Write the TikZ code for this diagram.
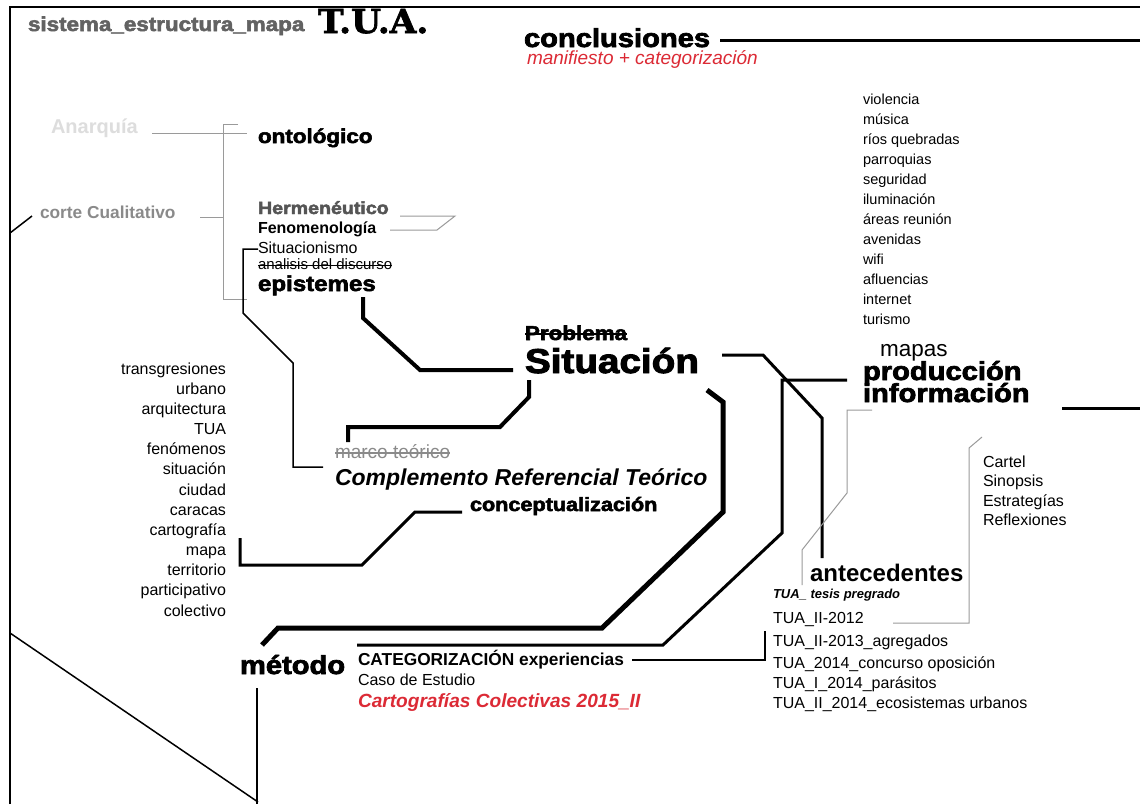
\documentclass[tikz,border=0pt]{standalone}
\usepackage{fontspec}
\setmainfont{Liberation Sans}
\newfontfamily\heavy{Liberation Sans}[BoldFeatures={FakeBold=2.6}]
\newfontfamily\slab{DejaVu Serif}[BoldFeatures={FakeBold=2}]
\definecolor{tred}{HTML}{DC2A35}
\definecolor{gE}{HTML}{DDDDDD}
\definecolor{g88}{HTML}{8A8A8A}
\definecolor{g55}{HTML}{555555}
\definecolor{g66}{HTML}{626262}
\definecolor{gline}{HTML}{9A9A9A}
\newcommand\fsz[1]{\fontsize{#1}{#1}\selectfont}
\begin{document}
\begin{tikzpicture}[x=1pt,y=-1pt,
  every node/.style={inner sep=0pt, outer sep=0pt, anchor=base west},
  hv/.style={font=\heavy\bfseries, xscale=1.12},
  bd/.style={font=\bfseries},
  lst/.style={anchor=base east},
  wfive/.style={line width=5pt, line join=miter},
  wfour/.style={line width=4pt, line join=miter},
  wthree/.style={line width=3pt, line join=miter},
  bthin/.style={line width=1.5pt, line join=miter},
  gthin/.style={line width=1pt, gline, line join=miter},
  strike/.style={line width=1.3pt}]
\useasboundingbox (0,0) rectangle (1140,804);
\fill[white] (0,0) rectangle (1140,804);
% frame
\draw[bthin] (10,804) -- (10,7) -- (1140,7);
% title
\node[hv, text=g66] (title) at (28,31) {\fsz{20}sistema\_estructura\_mapa};
\node[font=\slab\bfseries, xscale=1.04] (tua) at (318,33) {\fsz{33}T.U.A.};
% conclusiones
\node[hv] (concl) at (524,47) {\fsz{26}conclusiones};
\node[font=\itshape, text=tred] (manif) at (527,64.5) {\fsz{19}manifiesto + categorización};
\coordinate (c1) at (720,40); \coordinate (c2) at (1140,40);
\draw[wthree] (c1) -- (c2);
% left gray branch
\node[bd, text=gE] (anar) at (51,133) {\fsz{20}Anarquía};
\node[bd, text=g88] (corte) at (40,218) {\fsz{17.3}corte Cualitativo};
\draw[gthin] (152,133) -- (247,133);
\draw[gthin] (238,124) -- (223,124) -- (223,299) -- (247,299);
\draw[gthin] (200,217) -- (223,217);
\draw[bthin] (10,233) -- (32,216);
% upper stack
\node[hv] (onto) at (258,143) {\fsz{20}ontológico};
\node[hv, text=g55] (herm) at (258,214) {\fsz{17.5}Hermenéutico};
\node[bd] (feno) at (258,233) {\fsz{16}Fenomenología};
\draw[gthin] (400,216) -- (455,216) -- (437,230) -- (390,230);
\node (situ) at (258,253) {\fsz{16}Situacionismo};
\node (anal) at (258,269) {\fsz{15}analisis del discurso};
\draw[line width=1pt] ([yshift=4pt]anal.base west) -- ([yshift=4pt]anal.base east);
\node[hv] (epis) at (258,291) {\fsz{21.5}epistemes};
\draw[bthin] (258,249) -- (243,249) -- (243,313) -- (293,363) -- (293,467) -- (323,467);
% Situacion
\draw[wfour] (363,297) -- (363,318) -- (420,370) -- (513,370);
\node[hv] (prob) at (525,340) {\fsz{20}Problema};
\draw[strike] ([yshift=6pt]prob.base west) -- ([yshift=6pt]prob.base east);
\node[hv] (situa) at (525,373) {\fsz{34.5}Situación};
\draw[wfour] (529,380) -- (529,397) -- (500,427) -- (348,427) -- (348,442);
\node[text=g88] (marco) at (335,458) {\fsz{19}marco teórico};
\draw[line width=1.2pt, g88] ([yshift=5pt]marco.base west) -- ([yshift=5pt]marco.base east);
\node[font=\bfseries\itshape] (compl) at (335,485) {\fsz{23}Complemento Referencial Teórico};
\node[hv] (concep) at (470,511) {\fsz{19.3}conceptualización};
\draw[wthree] (240,538) -- (240,565) -- (362,565) -- (415,512) -- (462,512);
% left list
\foreach \t [count=\i from 0] in {transgresiones,urbano,arquitectura,TUA,fenómenos,situación,ciudad,caracas,cartografía,mapa,territorio,participativo,colectivo}
  \node[lst] (L\i) at (226,{374+20.17*\i}) {\fsz{16}\t};
% big loop
\draw[wfive] (707,390) -- (723,402) -- (723,512) -- (602,628) -- (278,628) -- (262,645);
\draw[wthree] (847,380) -- (782,380) -- (782,533) -- (663,645) -- (357,645);
\draw[wthree] (722,355) -- (763,355) -- (822,418) -- (822,558);
% metodo
\node[hv] (meto) at (240,674) {\fsz{26}método};
\node[bd] (categ) at (358,665) {\fsz{17.3}CATEGORIZACIÓN experiencias};
\node (caso) at (358,685) {\fsz{16}Caso de Estudio};
\node[font=\bfseries\itshape, text=tred] (carto) at (358,707) {\fsz{19.1}Cartografías Colectivas 2015\_II};
\draw[bthin] (632,660) -- (765,660) -- (765,631);
\draw[bthin] (10,633) -- (258,802);
\draw[bthin] (257,688) -- (257,804);
% right list
\foreach \t [count=\i from 0] in {violencia,música,ríos quebradas,parroquias,seguridad,iluminación,áreas reunión,avenidas,wifi,afluencias,internet,turismo}
  \node (R\i) at (863,{104+20*\i}) {\fsz{14.5}\t};
% produccion
\node (mapas) at (880,356) {\fsz{22.5}mapas};
\node[hv] (prod) at (863,380) {\fsz{26}producción};
\node[hv] (info) at (863,402) {\fsz{26}información};
\draw[wthree] (1062,408) -- (1140,408);
\draw[gthin] (872,410) -- (847,410) -- (847,493) -- (802,550) -- (802,585);
\draw[gthin] (982,437) -- (969,448) -- (969,623) -- (893,623);
\foreach \t [count=\i from 0] in {Cartel,Sinopsis,Estrategías,Reflexiones}
  \node (C\i) at (983,{467.5+19.4*\i}) {\fsz{16}\t};
% antecedentes
\node[bd] (ante) at (810,581) {\fsz{24}antecedentes};
\node[font=\bfseries\itshape] (tesis) at (773,598) {\fsz{13}TUA\_ tesis pregrado};
\node (t1) at (773,623) {\fsz{16}TUA\_II-2012};
\node (t2) at (773,646) {\fsz{16}TUA\_II-2013\_agregados};
\node (t3) at (773,668) {\fsz{16}TUA\_2014\_concurso oposición};
\node (t4) at (773,688) {\fsz{16}TUA\_I\_2014\_parásitos};
\node (t5) at (773,708) {\fsz{16}TUA\_II\_2014\_ecosistemas urbanos};
\end{tikzpicture}
\end{document}
